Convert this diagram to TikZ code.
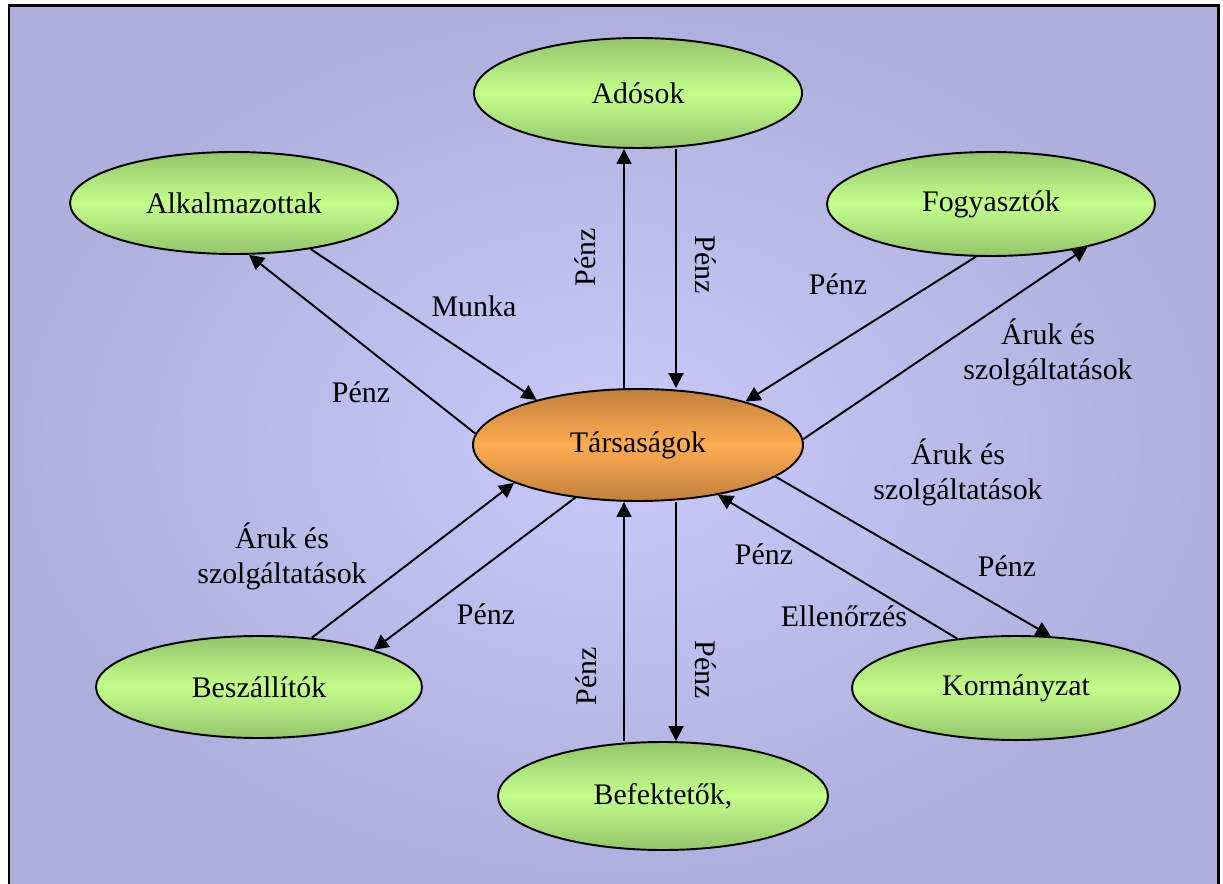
\documentclass[tikz,border=0pt]{standalone}
\usepackage{fontspec}
\setmainfont{Liberation Serif}
\usetikzlibrary{shapes.geometric,arrows.meta,calc}

\definecolor{bgin}{RGB}{202,202,250}
\definecolor{bgout}{RGB}{173,175,220}
\definecolor{greentop}{RGB}{148,196,108}
\definecolor{greenmid}{RGB}{196,255,140}
\definecolor{orangetop}{RGB}{192,128,60}
\definecolor{orangemid}{RGB}{255,172,82}

\begin{document}
\begin{tikzpicture}
	% styles for the party ellipses and the flows
	\tikzset{
		party/.style={ellipse, draw=black, line width=1.1pt, inner sep=0pt,
			minimum width=6.56cm, minimum height=2.08cm,
			top color=greentop, bottom color=greentop, middle color=greenmid,
			font=\fontsize{17}{20}\selectfont},
		hub/.style={party, minimum width=6.6cm, minimum height=2.24cm,
			top color=orangetop, bottom color=orangetop, middle color=orangemid},
		flow/.style={line width=1.1pt, -{Triangle[length=3mm,width=3mm]}},
		lbl/.style={font=\fontsize{17}{20}\selectfont, align=center, inner sep=0pt}
	}

	% page and background
	\useasboundingbox (0,0) rectangle (24.46,17.66);
	\shade[inner color=bgin, outer color=bgout] (0.18,0) rectangle (24.36,17.54);
	\draw[line width=1.7pt] (0.18,-0.2) -- (0.18,17.54) -- (24.36,17.54) -- (24.36,-0.2);

	% the company in the middle
	\node[hub] (tars) at (12.76, 8.76) {Társaságok};

	% the parties round it
	\node[party, minimum height=2.2cm] (ado) at (12.76, 15.80) {Adósok};
	\node[party, minimum height=2.04cm] (alk) at (4.68, 13.60) {Alkalmazottak};
	\node[party] (fogy) at (19.82, 13.58) {Fogyasztók};
	\node[party, minimum width=6.52cm, minimum height=2.04cm] (besz) at (5.18, 3.92) {Beszállítók};
	\node[party] (korm) at (20.32, 3.90) {Kormányzat};
	\node[party, minimum width=6.6cm, minimum height=2.16cm] (bef) at (13.26, 1.74) {Befektetők,};

	% x positions of the vertical flows
	\coordinate (lx) at ($(tars.center)+(-0.28,0)$);
	\coordinate (rx) at ($(tars.center)+(0.76,0)$);

	% up and down flows
	\draw[flow] (tars.north -| lx) -- (ado.south -| lx);
	\draw[flow] (ado.south -| rx) -- (tars.north -| rx);
	\draw[flow] (bef.north -| lx) -- (tars.south -| lx);
	\draw[flow] (tars.south -| rx) -- (bef.north -| rx);

	% diagonal flows
	\draw[flow] (alk.-31) -- (tars.156);
	\draw[flow] (tars.176) -- (alk.-74);
	\draw[flow] (fogy.-106) -- (tars.22);
	\draw[flow] (tars.2) -- (fogy.-24);
	\draw[flow] (besz.43) -- (tars.197);
	\draw[flow] (tars.-140) -- (besz.18);
	\draw[flow] (tars.-13) -- (korm.56);
	\draw[flow] (korm.140) -- (tars.-32);

	% labels on the flows
	\node[lbl, rotate=90] (p1) at (11.70, 12.52) {Pénz};
	\node[lbl, rotate=-90] (p2) at (14.12, 12.36) {Pénz};
	\node[lbl] (munka) at (9.48, 11.54) {Munka};
	\node[lbl] (p3) at (7.22, 9.82) {Pénz};
	\node[lbl] (p4) at (16.76, 11.98) {Pénz};
	\node[lbl] (aru1) at (20.96, 10.62) {Áruk és\\szolgáltatások};
	\node[lbl] (aru2) at (19.16, 8.22) {Áruk és\\szolgáltatások};
	\node[lbl] (aru3) at (5.64, 6.54) {Áruk és\\szolgáltatások};
	\node[lbl] (p5) at (9.72, 5.38) {Pénz};
	\node[lbl] (p6) at (15.28, 6.58) {Pénz};
	\node[lbl] (p7) at (20.14, 6.34) {Pénz};
	\node[lbl] (ell) at (16.88, 5.34) {Ellenőrzés};
	\node[lbl, rotate=90] (p8) at (11.72, 4.14) {Pénz};
	\node[lbl, rotate=-90] (p9) at (14.12, 4.26) {Pénz};

\end{tikzpicture}
\end{document}
